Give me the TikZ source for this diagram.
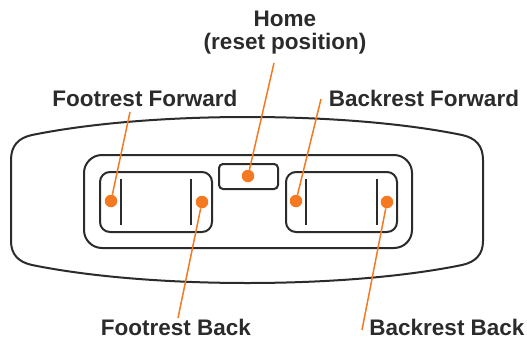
\documentclass[tikz,border=0pt]{standalone}
\usepackage{fontspec}
\setmainfont{Liberation Sans}
\definecolor{orng}{HTML}{F47920}
\definecolor{dgray}{HTML}{2B2B2B}
\begin{document}
\begin{tikzpicture}[x=1pt,y=-1pt,
  dot/.style={circle,fill=orng,inner sep=0pt,minimum size=12.5pt},
  lbl/.style={text=dgray,font=\fontsize{22.5}{23}\selectfont\bfseries,inner sep=0pt,anchor=base},
  lead/.style={orng,line width=1.5pt}]
\useasboundingbox (0,0) rectangle (527,340);
% housing
\draw[dgray,line width=2pt] (32,135) .. controls (150,111) and (345,111) .. (462,135)
  .. controls (476,138) and (483,146) .. (483,160) -- (483,241)
  .. controls (483,254) and (476,262) .. (462,265)
  .. controls (345,289) and (150,289) .. (32,265)
  .. controls (18,262) and (11,254) .. (11,241) -- (11,160)
  .. controls (11,146) and (18,138) .. (32,135) -- cycle;
\draw[dgray,line width=2pt,rounded corners=18pt] (84,155) rectangle (412,248);
% rocker switches
\draw[dgray,line width=2pt,rounded corners=10pt] (100,172) rectangle (212,232);
\draw[dgray,line width=2pt,rounded corners=10pt] (286,172) rectangle (397,232);
\draw[dgray,line width=2pt,rounded corners=4pt] (219,164) rectangle (278,189);
\draw[dgray,line width=2pt] (121,179)--(121,225);
\draw[dgray,line width=2pt] (191,179)--(191,225);
\draw[dgray,line width=2pt] (306,179)--(306,225);
\draw[dgray,line width=2pt] (377,179)--(377,225);

\node[lbl] (Lhome) at (285,27) {Home};
\node[lbl] (Lreset) at (285,49) {(reset position)};
\node[lbl] (Lff) at (145,106) {Footrest Forward};
\node[lbl] (Lbf) at (424,106) {Backrest Forward};
\node[lbl] (Lfb) at (176,335) {Footrest Back};
\node[lbl] (Lbb) at (447,335) {Backrest Back};

\coordinate (a) at (274,63);
\coordinate (b) at (130,112);
\coordinate (c) at (321,99);
\coordinate (d) at (178,318);
\coordinate (e) at (362,330);

 \node (H) at (248,176) [dot]{};
 \node (FF) at (111,201) [dot]{};
 \node (FB) at (202,202) [dot]{};
 \node (BF) at (296,201) [dot]{};
 \node (BB) at (387,202) [dot]{};

\draw[lead] (H)--(a);
\draw[lead] (FF)--(b);
\draw[lead] (BF)--(c);
\draw[lead] (FB)--(d);
\draw[lead] (BB)--(e);

\end{tikzpicture}
\end{document}
